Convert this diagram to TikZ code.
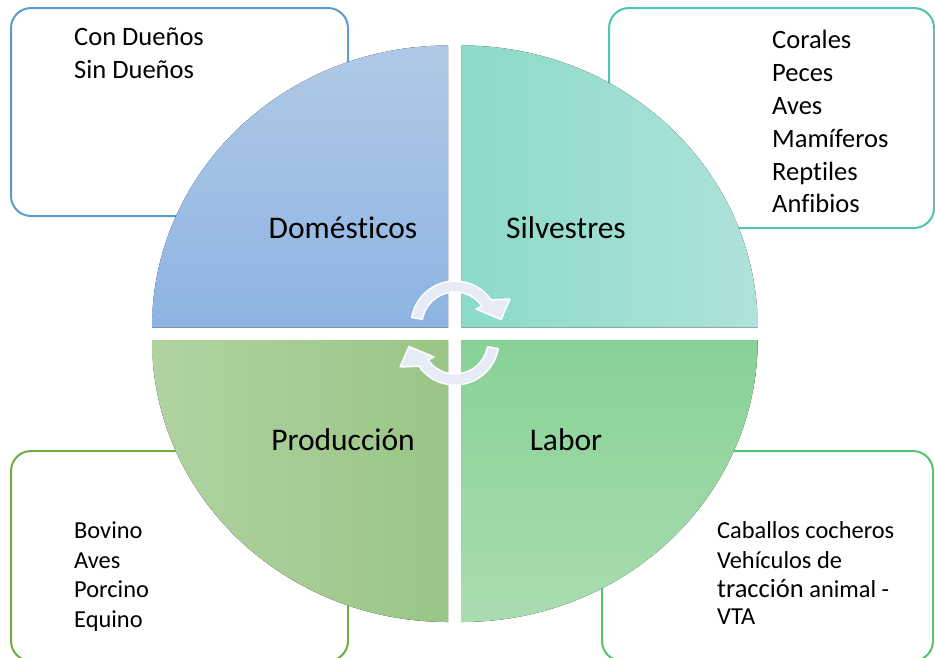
\documentclass[tikz,border=0pt]{standalone}
\usepackage{fontspec}
\setmainfont[Ligatures=NoCommon]{Carlito}
\begin{document}
\begin{tikzpicture}[x=1pt,y=-1pt,
  boxstyle/.style={line width=2pt,rounded corners=20pt,fill=white},
  lbl/.style={anchor=base,inner sep=0pt,font=\fontsize{31.5}{38}\selectfont},
  itemtop/.style={anchor=base west,inner sep=0pt,font=\fontsize{26.5}{32}\selectfont},
  itembot/.style={anchor=base west,inner sep=0pt,font=\fontsize{24.4}{29}\selectfont},
  cycarrow/.pic={
    \filldraw[fill=arrowfill,draw=white,line width=1.5pt,line join=round]
      (-43.3,-15.6) arc[start angle=190,end angle=325,radius=44]
      -- (55,-34) -- (46,-13.5) -- (21,-24)
      -- (27,-26.9) arc[start angle=325,end angle=190,radius=33] -- cycle;
  }]
\definecolor{tlbox}{HTML}{5B9BD5}
\definecolor{trbox}{HTML}{4CC6AE}
\definecolor{blbox}{HTML}{70AD47}
\definecolor{brbox}{HTML}{55C46A}
\definecolor{tltop}{HTML}{B0C9E7}
\definecolor{tlbot}{HTML}{8DB4E2}
\definecolor{trleft}{HTML}{8CDAC8}
\definecolor{trright}{HTML}{AEE2DA}
\definecolor{blleft}{HTML}{B0D3A0}
\definecolor{blright}{HTML}{9AC586}
\definecolor{brtop}{HTML}{88D196}
\definecolor{brbot}{HTML}{A9DCB0}
\definecolor{arrowfill}{HTML}{E6EBF5}
\useasboundingbox (0,0) rectangle (935,657);
\clip (0,0) rectangle (935,657);
% outer boxes
\draw[boxstyle,draw=tlbox] (11,8) rectangle (348,216);
\draw[boxstyle,draw=trbox] (609,8) rectangle (934,228);
\draw[boxstyle,draw=blbox] (11,451) rectangle (348,661);
\draw[boxstyle,draw=brbox] (602,451) rectangle (933,661);
% quadrants
\fill[top color=tltop,bottom color=tlbot]
  (448,327.5) -- (152,327.5) arc[start angle=180,end angle=270,x radius=296,y radius=282] -- cycle;
\fill[left color=trleft,right color=trright]
  (461.7,327.5) -- (461.7,45.5) arc[start angle=270,end angle=360,x radius=296,y radius=282] -- cycle;
\fill[left color=blleft,right color=blright]
  (448,340) -- (448,622) arc[start angle=90,end angle=180,x radius=296,y radius=282] -- cycle;
\fill[top color=brtop,bottom color=brbot]
  (461.7,340) -- (757.7,340) arc[start angle=0,end angle=90,x radius=296,y radius=282] -- cycle;
% cycle arrows
\pic at (455,333) {cycarrow};
\pic[rotate=180] at (455,333) {cycarrow};
% quadrant labels
\node[lbl] (dom) at (343,238) {Domésticos};
\node[lbl] (sil) at (566,238) {Silvestres};
\node[lbl] (pro) at (343,450) {Producción};
\node[lbl] (lab) at (566,450) {Labor};
% box texts
\node[itemtop] (t1) at (74,45.7) {Con Dueños};
\node[itemtop] (t2) at (74,78.7) {Sin Dueños};
\node[itemtop] (s1) at (772,48.3) {Corales};
\node[itemtop] (s2) at (772,81.5) {Peces};
\node[itemtop] (s3) at (772,114.5) {Aves};
\node[itemtop] (s4) at (772,147.5) {Mamíferos};
\node[itemtop] (s5) at (772,180) {Reptiles};
\node[itemtop] (s6) at (772,212.5) {Anfibios};
\node[itembot] (p1) at (74,538.3) {Bovino};
\node[itembot] (p2) at (74,568) {Aves};
\node[itembot] (p3) at (74,597.5) {Porcino};
\node[itembot] (p4) at (74,627) {Equino};
\node[itembot] (l1) at (717,538.5) {Caballos cocheros};
\node[itembot] (l2) at (717,568) {Vehículos de};
\node[itembot] (l3) at (717,597) {{\fontsize{26.5}{32}\selectfont tracción} animal -};
\node[itembot] (l4) at (717,624) {VTA};
\end{tikzpicture}
\end{document}
